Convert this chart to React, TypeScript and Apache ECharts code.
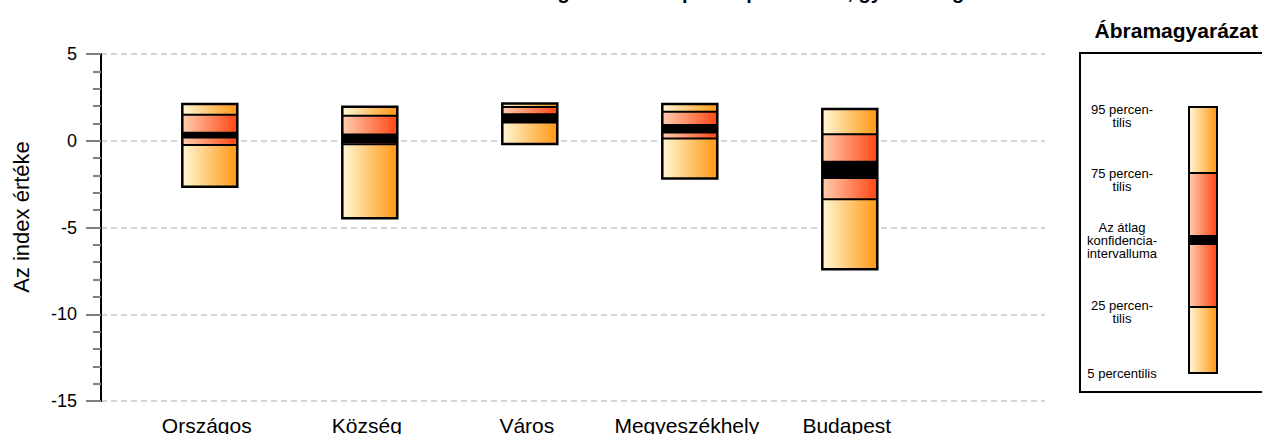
import React, { useEffect, useRef } from "react";
import * as echarts from "echarts";

const categories = ["Országos", "Község", "Város", "Megyeszékhely", "Budapest"];
const p5 = [-2.65, -4.46, -0.19, -2.17, -7.4];
const p25 = [-0.25, -0.2, 1.05, 0.13, -3.37];
const ciLow = [0.13, -0.15, 1.07, 0.42, -2.21];
const ciHigh = [0.52, 0.42, 1.58, 0.96, -1.15];
const p75 = [1.5, 1.44, 1.95, 1.67, 0.38];
const p95 = [2.12, 1.96, 2.15, 2.12, 1.83];
const yTicks = [-15, -10, -5, 0, 5];

const titleText = "A tanulók családi háttérindexének megoszlása településtípusonként, gyakorisági adatok";
const yName = "Az index értéke";
const legendTitle = "Ábramagyarázat";
const legendLabels = ["95 percen-\ntilis", "75 percen-\ntilis", "Az átlag\nkonfidencia-\nintervalluma", "25 percen-\ntilis", "5 percentilis"];

const FONT = "'Liberation Sans', Arial, sans-serif";

const yellow = () =>
  new echarts.graphic.LinearGradient(0, 0, 1, 0, [
    { offset: 0, color: "#fff7d4" },
    { offset: 1, color: "#ff9712" },
  ]);
const red = () =>
  new echarts.graphic.LinearGradient(0, 0, 1, 0, [
    { offset: 0, color: "#ffcdb0" },
    { offset: 1, color: "#ff4612" },
  ]);

export default function App() {
  const ref = useRef<HTMLDivElement>(null);
  useEffect(() => {
    if (!ref.current) return;
    const chart = echarts.init(ref.current, null, { renderer: "svg" });
    const data = categories.map((_, i) => [i, p5[i], p25[i], ciLow[i], ciHigh[i], p75[i], p95[i]]);

    // legend geometry
    const lx = 1189, lw = 28;
    const lTop = 107, l75 = 173, lCiT = 235, lCiB = 245, l25 = 307, lBot = 373;
    const labelY = [116, 180, 240, 312, 373];

    const option: any = {
      animation: false,
      grid: { left: 101, right: 217, top: 54, bottom: 33, containLabel: false },
      xAxis: { type: "value", min: -0.68, max: 5.22, show: false },
      yAxis: {
        type: "value",
        min: yTicks[0],
        max: yTicks[yTicks.length - 1],
        interval: 5,
        axisLine: { show: true, onZero: false, lineStyle: { color: "#000", width: 2 } },
        axisTick: { show: true, length: 15, lineStyle: { color: "#808080", width: 2 } },
        minorTick: { show: true, splitNumber: 5, length: 8, lineStyle: { color: "#808080", width: 2 } },
        axisLabel: { fontFamily: FONT, fontSize: 18, color: "#000", margin: 24 },
        splitLine: { show: true, lineStyle: { color: "#d4d4d4", width: 2, type: [6, 4] } },
      },
      series: [
        {
          type: "custom",
          data,
          clip: false,
          renderItem: (params: any, api: any) => {
            const x = api.value(0);
            const v5 = api.value(1), v25 = api.value(2), vL = api.value(3), vH = api.value(4), v75 = api.value(5), v95 = api.value(6);
            const cx = api.coord([x, 0])[0];
            const Y = (v: number) => api.coord([x, v])[1];
            const w = 55;
            const left = cx - w / 2;
            const seg = (a: number, b: number, fill: any) => ({
              type: "rect",
              shape: { x: left, y: Y(b), width: w, height: Y(a) - Y(b) },
              style: { fill, stroke: null },
            });
            const hline = (v: number) => ({
              type: "line",
              shape: { x1: left, y1: Y(v), x2: left + w, y2: Y(v) },
              style: { stroke: "#000", lineWidth: 2 },
            });
            return {
              type: "group",
              children: [
                seg(v5, v25, yellow()),
                seg(v25, v75, red()),
                seg(v75, v95, yellow()),
                seg(vL, vH, "#000"),
                hline(v25),
                hline(v75),
                {
                  type: "rect",
                  shape: { x: left, y: Y(v95), width: w, height: Y(v5) - Y(v95) },
                  style: { fill: "none", stroke: "#000", lineWidth: 2.5 },
                },
                {
                  type: "text",
                  x: cx - 3,
                  y: 425,
                  style: {
                    text: categories[params.dataIndex],
                    fontFamily: FONT,
                    fontSize: 21,
                    fill: "#000",
                    align: "center",
                    verticalAlign: "middle",
                  },
                },
              ],
            };
          },
        },
      ],
      graphic: [
        {
          type: "text",
          x: 620,
          y: -18,
          style: { text: titleText, fontFamily: FONT, fontSize: 20, fontWeight: "bold", fill: "#000", align: "center", verticalAlign: "top" },
        },
        {
          type: "text",
          x: 21,
          y: 217,
          rotation: Math.PI / 2,
          style: { text: yName, fontFamily: FONT, fontSize: 22, fill: "#000", align: "center", verticalAlign: "middle" },
        },
        {
          type: "text",
          x: 1258,
          y: 30,
          style: { text: legendTitle, fontFamily: FONT, fontSize: 21, fontWeight: "bold", fill: "#000", align: "right", verticalAlign: "middle" },
        },
        {
          type: "rect",
          shape: { x: 1080, y: 53, width: 220, height: 339 },
          style: { fill: "none", stroke: "#000", lineWidth: 2 },
        },
        { type: "rect", shape: { x: lx, y: lTop, width: lw, height: l75 - lTop }, style: { fill: yellow() } },
        { type: "rect", shape: { x: lx, y: l75, width: lw, height: l25 - l75 }, style: { fill: red() } },
        { type: "rect", shape: { x: lx, y: l25, width: lw, height: lBot - l25 }, style: { fill: yellow() } },
        { type: "rect", shape: { x: lx, y: lCiT, width: lw, height: lCiB - lCiT }, style: { fill: "#000" } },
        { type: "line", shape: { x1: lx, y1: l75, x2: lx + lw, y2: l75 }, style: { stroke: "#000", lineWidth: 2 } },
        { type: "line", shape: { x1: lx, y1: l25, x2: lx + lw, y2: l25 }, style: { stroke: "#000", lineWidth: 2 } },
        { type: "rect", shape: { x: lx, y: lTop, width: lw, height: lBot - lTop }, style: { fill: "none", stroke: "#000", lineWidth: 2 } },
        ...legendLabels.map((t, i) => ({
          type: "text",
          x: 1122,
          y: labelY[i],
          style: { text: t, fontFamily: FONT, fontSize: 13, lineHeight: 13, fill: "#000", align: "center", verticalAlign: "middle" },
        })),
      ],
    };
    chart.setOption(option);
    return () => chart.dispose();
  }, []);
  return <div ref={ref} style={{ width: 1262, height: 434, position: "absolute", left: 0, top: 0 }} />;
}
